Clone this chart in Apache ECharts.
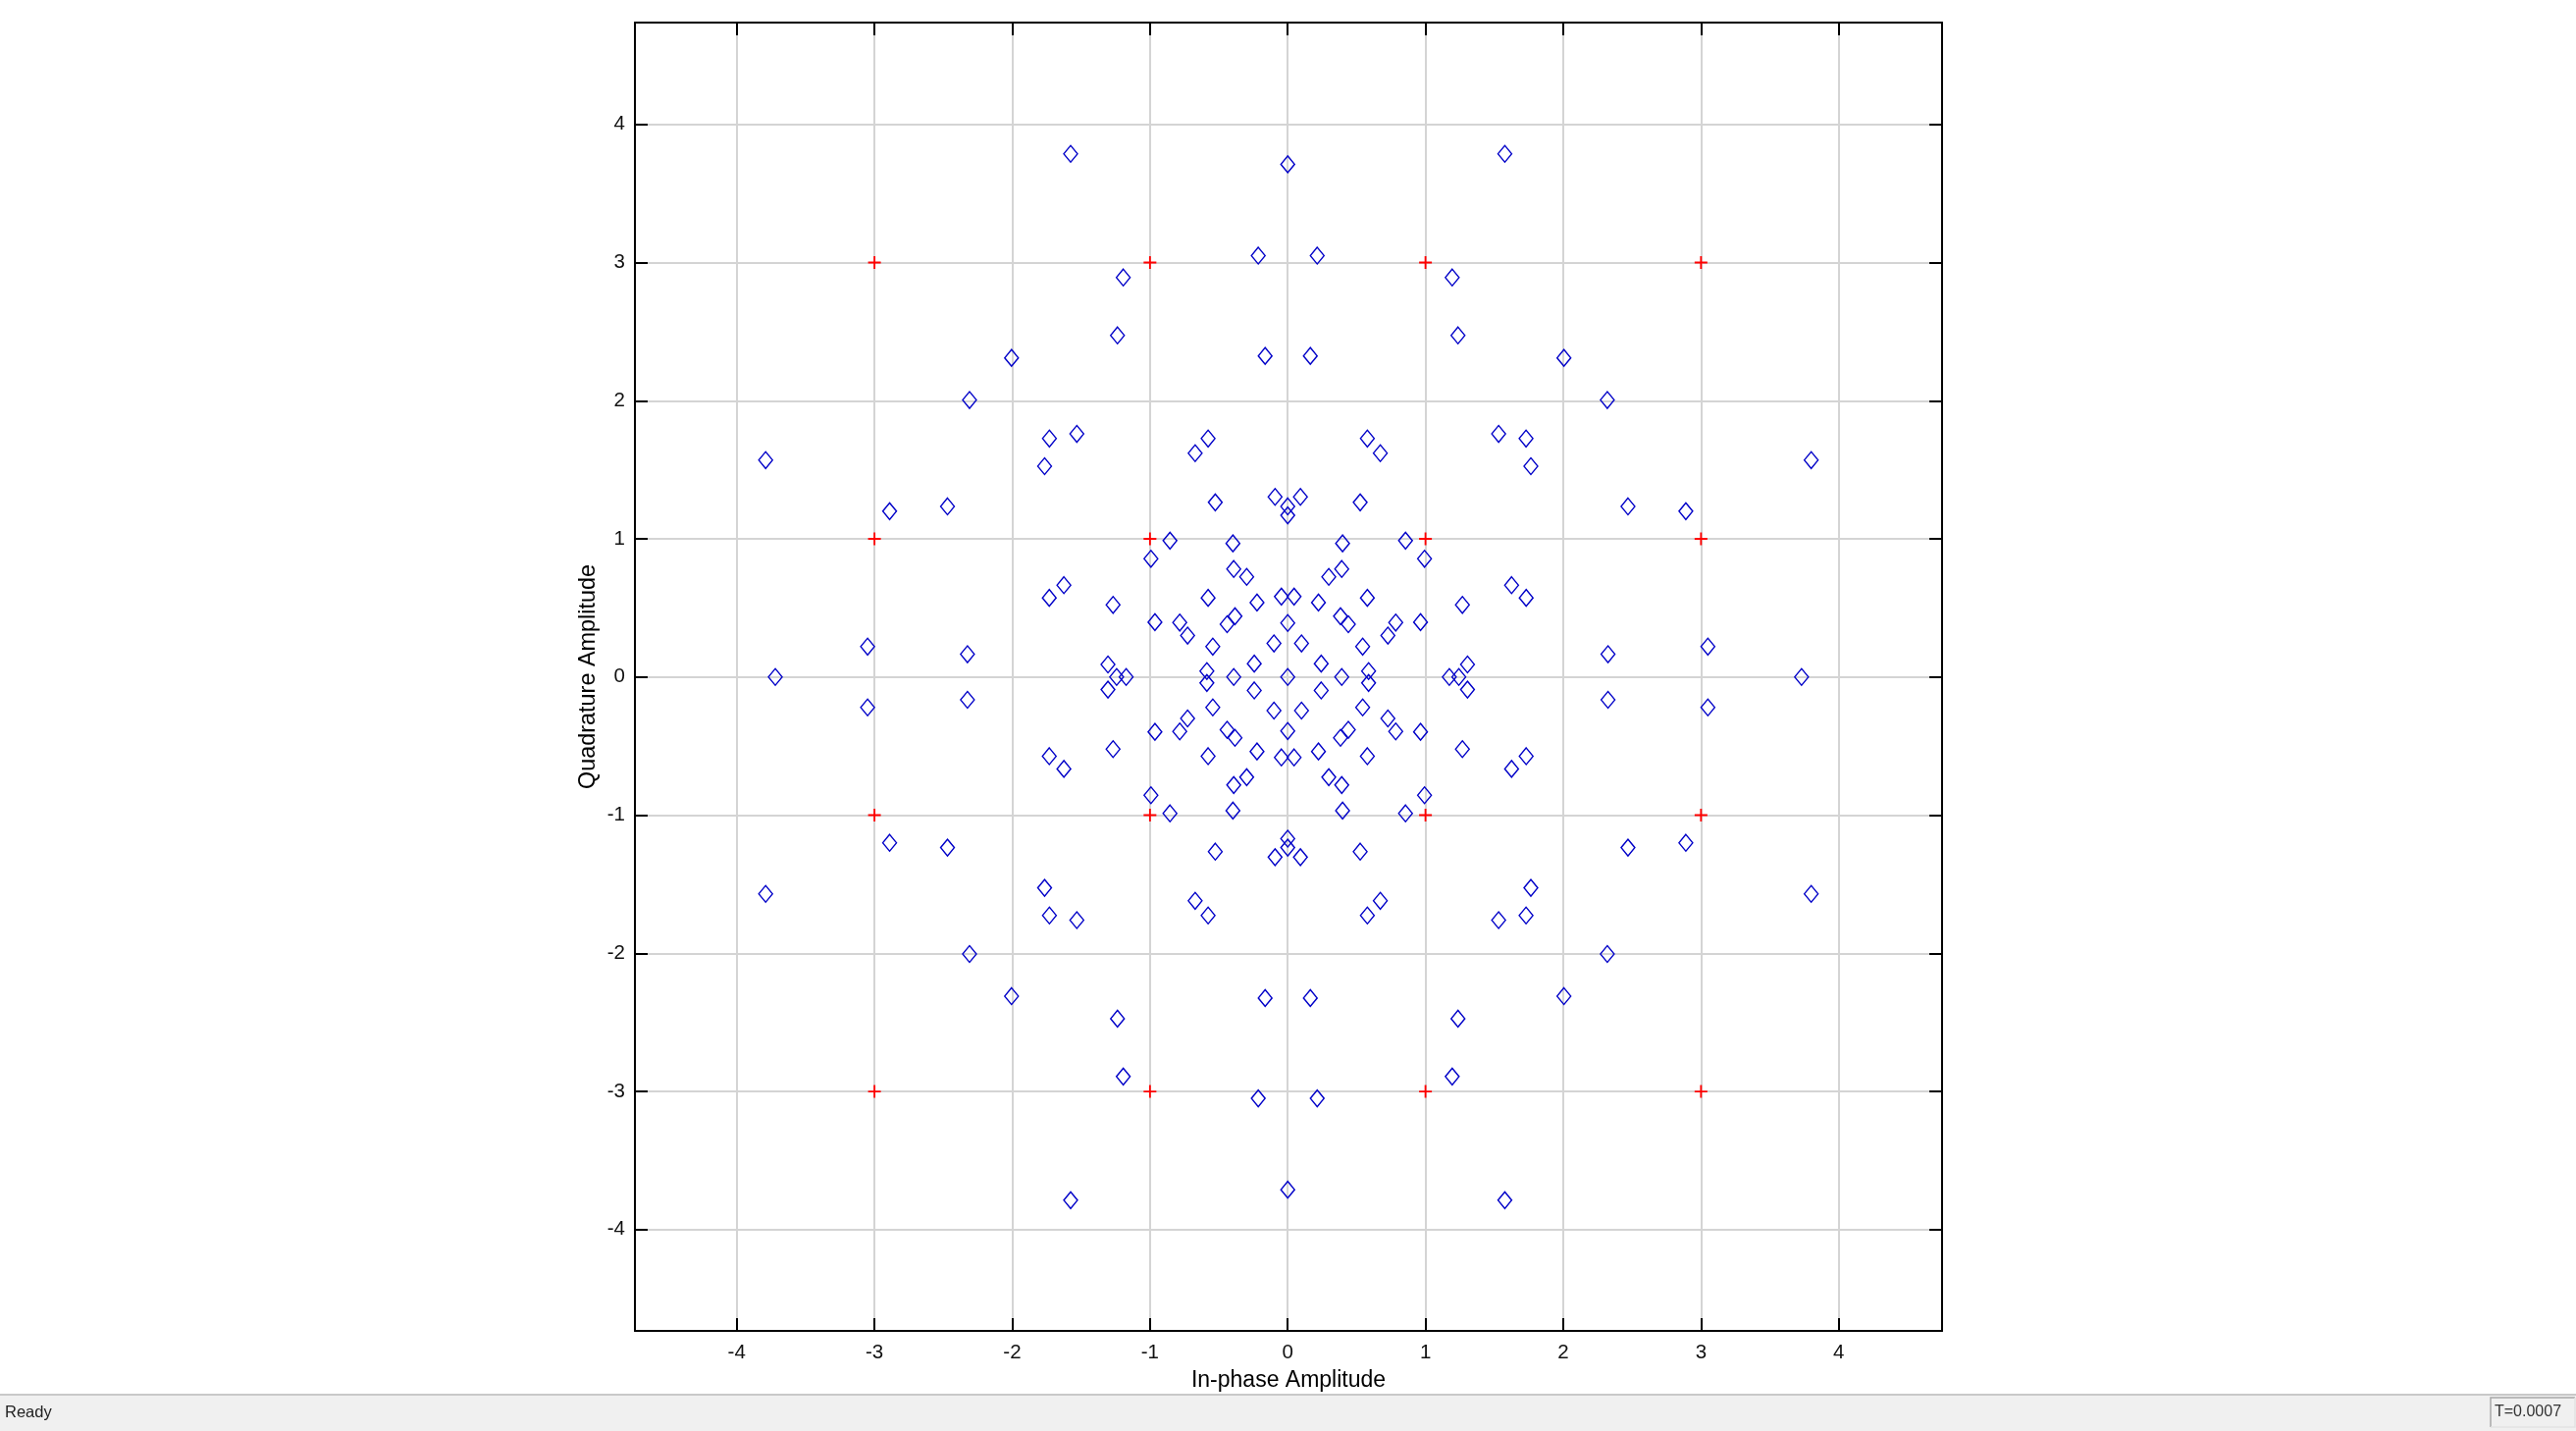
<!DOCTYPE html>
<html>
<head>
<meta charset="utf-8">
<style>html,body{margin:0;padding:0;background:#fff}#c{width:2625px;height:1458px}</style>
<script src="https://cdn.jsdelivr.net/npm/echarts@6/dist/echarts.min.js"></script>
</head>
<body>
<div id="c"></div>
<script>
const tickValues = [-4,-3,-2,-1,0,1,2,3,4];
const xName = 'In-phase Amplitude';
const yName = 'Quadrature Amplitude';
const statusLeft = 'Ready';
const statusRight = 'T=0.0007';

const referenceI = [-3,-3,-3,-3,-1,-1,-1,-1,1,1,1,1,3,3,3,3];
const referenceQ = [-3,-1,1,3,-3,-1,1,3,-3,-1,1,3,-3,-1,1,3];

// received symbols, quadrant by quadrant
const q1I = [3.8,3.05,2.89,2.47,2.325,2.32,2.005,1.576,1.236,1.194,0.214,0.164,1.531,1.73,1.765,0.578,0.672,0.526,0.092,0.398,0.855,0.993,0.392,0.298,1.625,1.731,0.578,1.268,0.046,0.223,0.383,0.44,0.784,0.727,0.964,0.1,0.544,0.243,0.587,1.305];
const q1Q = [1.57,0.22,1.2,1.235,0.165,2.005,2.31,3.787,2.473,2.892,3.05,2.324,1.76,1.726,1.526,1.726,1.62,1.264,1.304,0.967,0.987,0.856,0.782,0.725,0.665,0.573,0.573,0.522,0.582,0.539,0.44,0.382,0.394,0.3,0.397,0.243,0.22,0.097,0.043,0.091];
const q2I = [-3.79,-3.05,-2.89,-2.47,-2.325,-2.31,-2.005,-1.576,-1.236,-1.194,-0.214,-0.164,-1.531,-1.73,-1.765,-0.578,-0.672,-0.526,-0.092,-0.398,-0.855,-0.993,-0.392,-0.298,-1.625,-1.731,-0.578,-1.268,-0.046,-0.223,-0.383,-0.44,-0.784,-0.727,-0.964,-0.1,-0.544,-0.243,-0.587,-1.305];
const q2Q = [1.57,0.22,1.2,1.235,0.165,2.005,2.31,3.787,2.473,2.892,3.05,2.324,1.76,1.726,1.526,1.726,1.62,1.264,1.304,0.967,0.987,0.856,0.782,0.725,0.665,0.573,0.573,0.522,0.582,0.539,0.44,0.382,0.394,0.3,0.397,0.243,0.22,0.097,0.043,0.091];
const q3I = [-3.79,-3.05,-2.89,-2.47,-2.325,-2.31,-2.005,-1.576,-1.236,-1.194,-0.214,-0.164,-1.531,-1.73,-1.765,-0.578,-0.672,-0.526,-0.092,-0.398,-0.855,-0.993,-0.392,-0.298,-1.625,-1.731,-0.578,-1.268,-0.046,-0.223,-0.383,-0.44,-0.784,-0.727,-0.964,-0.1,-0.544,-0.243,-0.587,-1.305];
const q3Q = [-1.57,-0.22,-1.2,-1.235,-0.165,-2.005,-2.31,-3.787,-2.473,-2.892,-3.05,-2.324,-1.76,-1.726,-1.526,-1.726,-1.62,-1.264,-1.304,-0.967,-0.987,-0.856,-0.782,-0.725,-0.665,-0.573,-0.573,-0.522,-0.582,-0.539,-0.44,-0.382,-0.394,-0.3,-0.397,-0.243,-0.22,-0.097,-0.043,-0.091];
const q4I = [3.8,3.05,2.89,2.47,2.325,2.32,2.005,1.576,1.236,1.194,0.214,0.164,1.531,1.73,1.765,0.578,0.672,0.526,0.092,0.398,0.855,0.993,0.392,0.298,1.625,1.731,0.578,1.268,0.046,0.223,0.383,0.44,0.784,0.727,0.964,0.1,0.544,0.243,0.587,1.305];
const q4Q = [-1.57,-0.22,-1.2,-1.235,-0.165,-2.005,-2.31,-3.787,-2.473,-2.892,-3.05,-2.324,-1.76,-1.726,-1.526,-1.726,-1.62,-1.264,-1.304,-0.967,-0.987,-0.856,-0.782,-0.725,-0.665,-0.573,-0.573,-0.522,-0.582,-0.539,-0.44,-0.382,-0.394,-0.3,-0.397,-0.243,-0.22,-0.097,-0.043,-0.091];
const axisI = [0,0,3.73,-3.72,0,0,0,0,1.242,-1.242,1.173,-1.173,0.392,-0.392,0,0,0];
const axisQ = [3.711,-3.711,0,0,1.235,-1.235,1.17,-1.17,0,0,0,0,0,0,0.391,-0.391,0];

const FONT = '"Liberation Sans", Arial, sans-serif';
const pairs = (a, b) => a.map((v, i) => [v, b[i]]);
const symbolI = q1I.concat(q2I, q3I, q4I, axisI);
const symbolQ = q1Q.concat(q2Q, q3Q, q4Q, axisQ);

function valueAxis(position, min, max, showLabel, nameText, nameGap, margin, nameSize) {
  return {
    type: 'value', position, min, max,
    name: nameText, nameLocation: 'middle', nameGap, nameMoveOverlap: false,
    nameTextStyle: { fontFamily: FONT, fontSize: nameSize, color: '#000' },
    axisLine: { show: true, onZero: false, lineStyle: { color: '#000', width: 2 } },
    axisTick: { show: true, inside: true, length: 13, customValues: tickValues, lineStyle: { color: '#000', width: 2 } },
    axisLabel: { show: showLabel, margin, customValues: tickValues, fontFamily: FONT, fontSize: 20.5, color: '#111', hideOverlap: false },
    splitLine: { show: showLabel, lineStyle: { color: '#d4d4d4', width: 2 } },
    minorTick: { show: false }
  };
}

const chart = echarts.init(document.getElementById('c'), null, { renderer: 'canvas', width: 2625, height: 1458 });
chart.setOption({
  animation: false,
  backgroundColor: '#ffffff',
  grid: { left: 647, top: 23, width: 1332, height: 1333, containLabel: false },
  xAxis: [
    valueAxis('bottom', -4.739, 4.75, true, xName, 39, 12, 23),
    valueAxis('top', -4.739, 4.75, false, '', 0, 0, 23)
  ],
  yAxis: [
    valueAxis('left', -4.733, 4.737, true, yName, 36, 10, 23.4),
    valueAxis('right', -4.733, 4.737, false, '', 0, 0, 23)
  ],
  series: [
    {
      name: 'Reference', type: 'scatter', silent: true, z: 3,
      data: pairs(referenceI, referenceQ),
      symbol: 'path://M6 0h2v6h6v2H8v6H6V8H0V6h6z', symbolSize: 13,
      itemStyle: { color: '#ff0000', opacity: 1 }
    },
    {
      name: 'Symbols', type: 'scatter', silent: true, z: 4,
      data: pairs(symbolI, symbolQ),
      symbol: 'diamond', symbolSize: [14, 17],
      itemStyle: { color: 'rgba(255,255,255,0)', borderColor: '#0000c8', borderWidth: 1.4, opacity: 1 }
    }
  ],
  graphic: [
    { type: 'rect', z: 100, shape: { x: 0, y: 1421, width: 2625, height: 37 }, style: { fill: '#f0f0f0' }, silent: true },
    { type: 'line', z: 101, shape: { x1: 0, y1: 1421, x2: 2625, y2: 1421 }, style: { stroke: '#c8c8c8', lineWidth: 2 }, silent: true },
    { type: 'text', z: 102, x: 5, y: 1439, style: { text: statusLeft, font: '16.5px ' + FONT, fill: '#222', textVerticalAlign: 'middle' }, silent: true },
    { type: 'polyline', z: 101, shape: { points: [[2538, 1454], [2538, 1424], [2624, 1424]] }, style: { stroke: '#a8a8a8', lineWidth: 1.5, fill: 'none' }, silent: true },
    { type: 'polyline', z: 101, shape: { points: [[2538, 1454], [2624, 1454], [2624, 1424]] }, style: { stroke: '#e2e2e2', lineWidth: 1.5, fill: 'none' }, silent: true },
    { type: 'text', z: 102, x: 2542, y: 1439, style: { text: statusRight, font: '16px ' + FONT, fill: '#333', textVerticalAlign: 'middle' }, silent: true }
  ]
});
</script>
</body>
</html>
